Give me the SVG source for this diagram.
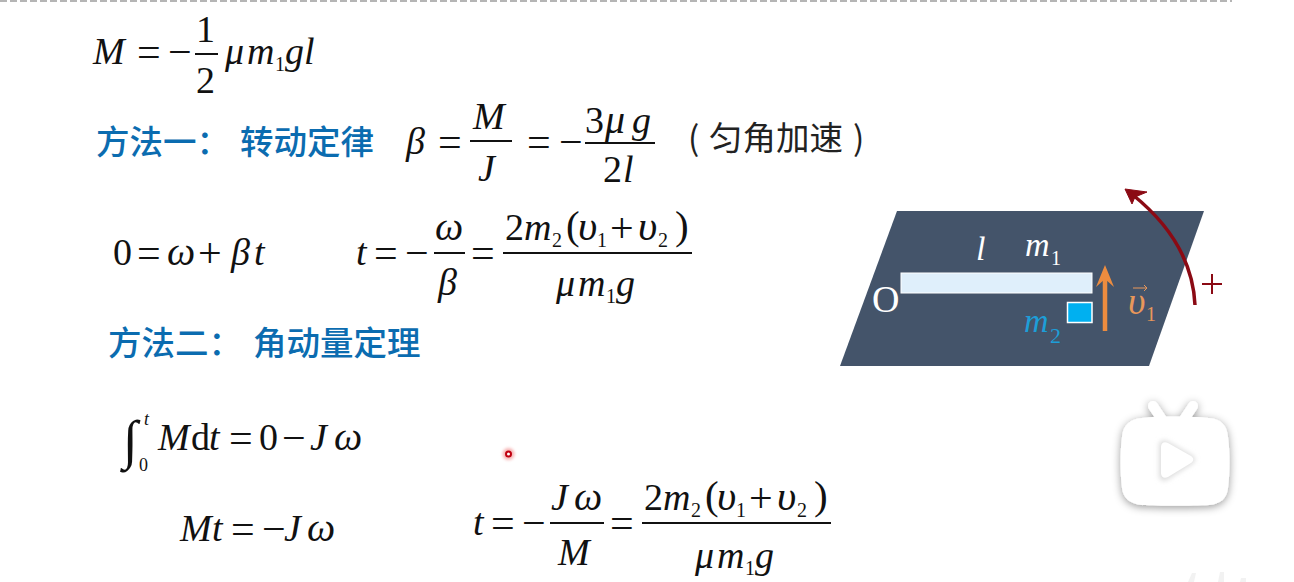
<svg xmlns="http://www.w3.org/2000/svg" width="1294" height="582" viewBox="0 0 1294 582">
<defs>
<style>
text{font-family:"Liberation Serif","Noto Sans CJK SC",serif;fill:#111}
.f{font-size:38px}
.i{font-style:italic}
.o{font-size:42px}
.w{font-size:40px;font-style:italic}
.u{font-size:42px;font-style:italic}
.p{font-size:41px}
.s{font-size:20px}
.h{font-family:"Noto Sans CJK SC","Liberation Sans",sans-serif;font-size:33.500px;fill:#0b6cb0;font-weight:500}
.b{font-family:"Noto Sans CJK SC","Liberation Sans",sans-serif;font-size:33.500px;fill:#222}
.bar{stroke:#111;stroke-width:2;fill:none}
</style>
<filter id="sh" x="-20%" y="-20%" width="140%" height="140%"><feDropShadow dx="0" dy="2" stdDeviation="4" flood-color="#000" flood-opacity="0.4"/></filter>
<filter id="gl" x="-100%" y="-100%" width="300%" height="300%"><feGaussianBlur stdDeviation="1.500"/></filter>
<filter id="in" x="-20%" y="-20%" width="140%" height="140%"><feGaussianBlur stdDeviation="2.500"/></filter>
</defs>
<rect width="1294" height="582" fill="#fff"/>
<line x1="0" y1="1" x2="1232" y2="1" stroke="#b5b5b5" stroke-width="2" stroke-dasharray="7 3"/>

<g id="eq1">
<text class="f i" x="93" y="64">M</text><text class="o" x="137" y="66">=</text><text class="o" x="168" y="66">−</text>
<text class="f" x="196" y="42">1</text><line class="bar" x1="195" y1="54" x2="218" y2="54"/><text class="f" x="196" y="93">2</text>
<text class="f i" x="225" y="64">μ</text><text class="f i" x="247" y="64">m</text><text class="s" x="275" y="71">1</text><text class="f i" x="285" y="64">g</text><text class="f i" x="304" y="64">l</text>
</g>

<g id="method1">
<text class="h" x="96" y="154">方法一：</text><text class="h" x="240" y="154">转动定律</text>
<text class="f i" x="406" y="154">β</text><text class="o" x="438" y="156">=</text>
<text class="f i" x="473" y="129">M</text><line class="bar" x1="470" y1="141" x2="512" y2="141"/><text class="f i" x="478" y="181">J</text>
<text class="o" x="527" y="156">=</text><text class="o" x="559" y="156">−</text>
<text class="f" x="585" y="133">3</text><text class="w" x="605" y="133">μ</text><text class="f i" x="632" y="133">g</text><line class="bar" x1="585" y1="143" x2="655" y2="143"/>
<text class="f" x="603" y="182">2</text><text class="f i" x="623" y="182">l</text>
<text class="b" x="688" y="150">(</text><text class="b" x="709" y="150">匀角加速</text><text class="b" x="853" y="150">)</text>
</g>

<g id="eq2">
<text class="f" x="113" y="265">0</text><text class="o" x="137" y="267">=</text><text class="w" x="167" y="265">ω</text><text class="o" x="198" y="267">+</text><text class="f i" x="231" y="265">β</text><text class="f i" x="254" y="265">t</text>
<text class="f i" x="356" y="265">t</text><text class="o" x="374" y="267">=</text><text class="o" x="405" y="267">−</text>
<text class="w" x="435" y="240">ω</text><line class="bar" x1="434" y1="253" x2="465" y2="253"/><text class="f i" x="438" y="295">β</text>
<text class="o" x="471" y="267">=</text>
<g id="frac1">
<text class="f" x="505" y="240">2</text><text class="f i" x="524" y="240">m</text><text class="s" x="552" y="247">2</text><text class="p" x="566" y="239">(</text><text class="u" x="578" y="240">υ</text><text class="s" x="597" y="247">1</text><text class="o" x="610" y="242">+</text><text class="u" x="638" y="240">υ</text><text class="s" x="658" y="247">2</text><text class="p" x="675" y="239">)</text>
<line class="bar" x1="503" y1="253" x2="692" y2="253"/>
<text class="f i" x="556" y="296">μ</text><text class="f i" x="578" y="296">m</text><text class="s" x="606" y="303">1</text><text class="f i" x="616" y="296">g</text>
</g>
</g>

<g id="method2">
<text class="h" x="108" y="355">方法二：</text><text class="h" x="253" y="355">角动量定理</text>
</g>

<g id="eq3">
<text x="123" y="458" style="font-size:54px">∫</text>
<text class="i" x="144" y="425" style="font-size:18px">t</text><text x="139" y="471" style="font-size:18px">0</text>
<text class="f i" x="158" y="450">M</text><text class="f" x="191" y="450">d</text><text class="f i" x="209" y="450">t</text><text class="o" x="229" y="452">=</text><text class="f" x="259" y="450">0</text><text class="o" x="282" y="452">−</text><text class="f i" x="310" y="450">J</text><text class="w" x="334" y="450">ω</text>
</g>

<g id="eq4">
<text class="f i" x="180" y="541">M</text><text class="f i" x="212" y="541">t</text><text class="o" x="231" y="543">=</text><text class="o" x="262" y="543">−</text><text class="f i" x="284" y="541">J</text><text class="w" x="307" y="541">ω</text>
<text class="f i" x="473" y="535">t</text><text class="o" x="491" y="537">=</text><text class="o" x="522" y="537">−</text>
<text class="f i" x="551" y="510">J</text><text class="w" x="574" y="510">ω</text><line class="bar" x1="550" y1="523" x2="604" y2="523"/><text class="f i" x="558" y="565">M</text>
<text class="o" x="610" y="537">=</text>
<g id="frac2">
<text class="f" x="644" y="510">2</text><text class="f i" x="663" y="510">m</text><text class="s" x="691" y="517">2</text><text class="p" x="705" y="509">(</text><text class="u" x="717" y="510">υ</text><text class="s" x="736" y="517">1</text><text class="o" x="749" y="512">+</text><text class="u" x="777" y="510">υ</text><text class="s" x="797" y="517">2</text><text class="p" x="814" y="509">)</text>
<line class="bar" x1="642" y1="523" x2="831" y2="523"/>
<text class="f i" x="695" y="568">μ</text><text class="f i" x="717" y="568">m</text><text class="s" x="745" y="575">1</text><text class="f i" x="755" y="568">g</text>
</g>
</g>

<g id="figure">
<polygon points="897,211 1204,211 1149,366 840,366" fill="#44546a"/>
<rect x="901" y="273" width="191" height="20" fill="#dfeffb" stroke="#fff" stroke-width="1"/>
<rect x="1067.500" y="302.500" width="24.500" height="20" fill="#00b0f0" stroke="#fff" stroke-width="1.500"/>
<text x="872" y="312" style="fill:#fff;font-size:38px">O</text>
<text class="i" x="976" y="260" style="fill:#fff;font-size:34px">l</text>
<text class="i" x="1025" y="256" style="fill:#fff;font-size:34px">m</text><text x="1051" y="265" style="fill:#fff;font-size:20px">1</text>
<text class="i" x="1024" y="332" style="fill:#1d9ed8;font-size:34px">m</text><text x="1050" y="343" style="fill:#1d9ed8;font-size:22px">2</text>
<text class="i" x="1128" y="314" style="fill:#e8975a;font-size:38px">υ</text><text x="1146" y="321" style="fill:#e8975a;font-size:20px">1</text>
<path d="M1133 288H1147M1144 285l3 3-3 3" fill="none" stroke="#e8975a" stroke-width="1"/>
</g>

<g id="connectors">
<path d="M1105 331V272" fill="none" stroke="#ed8c3f" stroke-width="4.500"/>
<polygon points="1105,265 1114,287 1105,279 1096,287" fill="#ed8c3f"/>
<path d="M1195 305C1193 262 1170 225 1133 195" fill="none" stroke="#8b0a14" stroke-width="3.500"/>
<polygon points="1125,189 1147,192 1135,197 1132,204" fill="#8b0a14" stroke="#8b0a14" stroke-width="1"/>
</g>
<path id="plus" d="M1202 284H1222M1212 274V294" fill="none" stroke="#8b0a14" stroke-width="2"/>

<g id="cursor">
<circle cx="508.500" cy="454" r="6" fill="#f08080" opacity="0.6" filter="url(#gl)"/>
<circle cx="508.500" cy="454" r="2.500" fill="#fff" stroke="#c00010" stroke-width="2"/>
</g>

<g id="watermark">
<g filter="url(#sh)">
<path d="M1155 418l-6-9a5 5 0 0 1 8-6l10 15zM1191 418l6-9a5 5 0 0 0-8-6l-10 15z" fill="#fff"/>
<path d="M1142 418C1158 416 1192 416 1209 418C1221 419 1227 425 1228 437C1230 452 1230 472 1228 488C1227 498 1221 504 1209 505C1192 506 1158 506 1142 505C1130 504 1123 498 1122 488C1120 472 1120 452 1122 437C1123 425 1130 419 1142 418Z" fill="#fff"/>
</g>
<path d="M1159 446C1159 441 1163 439 1167 441L1192 455C1196 458 1196 461 1192 464L1167 480C1163 482 1159 480 1159 475Z" fill="#ddd" filter="url(#in)"/>
<path d="M1161 447C1161 443 1164 441 1168 443L1191 456C1194 458 1194 461 1191 463L1168 477C1164 479 1161 477 1161 473Z" fill="#fff"/>
</g>
<g id="wm2" fill="#f2f2f2"><path d="M1188 582l4-9 4 0-2 9zM1218 582l2-10 4 0 0 10zM1240 582l1-4 5 0 0 4z"/></g>
</svg>
